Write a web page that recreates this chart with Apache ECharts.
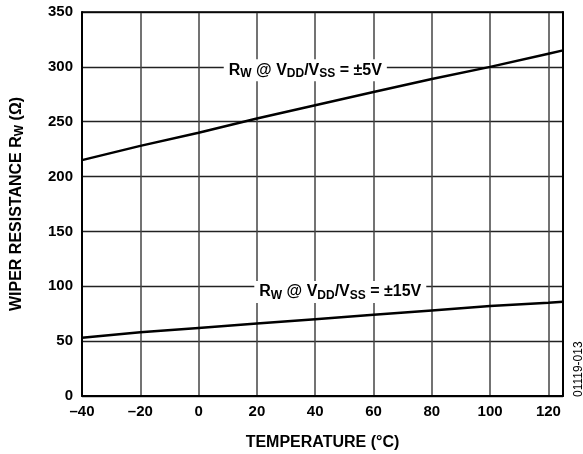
<!DOCTYPE html>
<html><head><meta charset="utf-8">
<script src="https://cdn.jsdelivr.net/npm/echarts@6/dist/echarts.min.js"></script>
<style>html,body{margin:0;padding:0;background:#fff}#c{width:583px;height:454px}</style>
</head><body><div id="c"></div>
<script>
const temps = [-40, -20, 0, 20, 40, 60, 80, 100, 120, 125];
const rw5V = [215, 228, 240, 253, 265, 277, 289, 300, 312, 315];
const rw15V = [53, 58, 62, 66, 70, 74, 78, 82, 85, 86];
const xTicks = [-40, -20, 0, 20, 40, 60, 80, 100, 120];
const yTicks = [0, 50, 100, 150, 200, 250, 300, 350];
const label5 = {coord: [36.6, 297], text: '{n|R}{s|W}{n| @ V}{s|DD}{n|/V}{s|SS}{n| = ±5V}'};
const label15 = {coord: [48.6, 94.8], text: '{n|R}{s|W}{n| @ V}{s|DD}{n|/V}{s|SS}{n| = ±15V}'};

const FONT = '"Liberation Sans", Arial, sans-serif';
const chart = echarts.init(document.getElementById('c'));
const rich = {
  n: {fontFamily: FONT, fontWeight: 'bold', fontSize: 16, color: '#000'},
  s: {fontFamily: FONT, fontWeight: 'bold', fontSize: 12, color: '#000', verticalAlign: 'bottom', padding: [8, 0, 0, 0]}
};
function mk(l) {
  return {
    coord: l.coord, symbol: 'circle', symbolSize: 1, itemStyle: {color: 'rgba(0,0,0,0)'},
    label: {show: true, position: 'inside', formatter: l.text, rich: rich, backgroundColor: '#fff', padding: [1, 5, 1, 5]}
  };
}
chart.setOption({
  animation: false,
  grid: {left: 82, right: 20, top: 12, bottom: 58, containLabel: false, outerBoundsMode: 'none'},
  xAxis: [{
    type: 'value', min: -40, max: 125, interval: 20,
    axisLine: {show: true, onZero: false, lineStyle: {color: '#000', width: 2}},
    axisTick: {show: false},
    axisLabel: {fontFamily: FONT, fontWeight: 'bold', fontSize: 15, color: '#000', margin: 8,
      formatter: v => xTicks.includes(v) ? (v < 0 ? '\u2013' + Math.abs(v) : String(v)) : ''},
    splitLine: {show: true, lineStyle: {color: '#444', width: 1.5}},
    name: 'TEMPERATURE (°C)', nameLocation: 'middle', nameGap: 39,
    nameTextStyle: {fontFamily: FONT, fontWeight: 'bold', fontSize: 16, color: '#000'}
  }, {
    type: 'value', position: 'top', min: -40, max: 125,
    axisLine: {show: true, onZero: false, lineStyle: {color: '#000', width: 1.5}},
    axisTick: {show: false}, axisLabel: {show: false}, splitLine: {show: false}
  }],
  yAxis: [{
    type: 'value', min: 0, max: 350, interval: 50,
    axisLine: {show: true, onZero: false, lineStyle: {color: '#000', width: 2}},
    axisTick: {show: false},
    axisLabel: {fontFamily: FONT, fontWeight: 'bold', fontSize: 15, color: '#000', margin: 9,
      formatter: v => yTicks.includes(v) ? String(v) : ''},
    splitLine: {show: true, lineStyle: {color: '#222', width: 1.3}},
    name: '{n|WIPER RESISTANCE R}{s|W}{n| (Ω)}', nameLocation: 'middle', nameGap: 56, nameRotate: 90,
    nameTextStyle: {rich: {
      n: {fontFamily: FONT, fontWeight: 'bold', fontSize: 16, color: '#000'},
      s: {fontFamily: FONT, fontWeight: 'bold', fontSize: 12, color: '#000', verticalAlign: 'bottom', padding: [7, 0, 0, 0]}
    }}
  }, {
    type: 'value', position: 'right', min: 0, max: 350,
    axisLine: {show: true, onZero: false, lineStyle: {color: '#000', width: 2}},
    axisTick: {show: false}, axisLabel: {show: false}, splitLine: {show: false}
  }],
  series: [{
    type: 'line', data: temps.map((t, i) => [t, rw5V[i]]), symbol: 'none',
    lineStyle: {color: '#000', width: 2.5}, z: 3,
    markPoint: {data: [mk(label5)], z: 5}
  }, {
    type: 'line', data: temps.map((t, i) => [t, rw15V[i]]), symbol: 'none',
    lineStyle: {color: '#000', width: 2.5}, z: 3,
    markPoint: {data: [mk(label15)], z: 5}
  }],
  graphic: [{
    type: 'text', x: 579, y: 397, rotation: Math.PI / 2,
    style: {text: '01119-013', fontFamily: FONT, fontSize: 12, fill: '#000', align: 'left', verticalAlign: 'middle'}
  }]
});
</script></body></html>
